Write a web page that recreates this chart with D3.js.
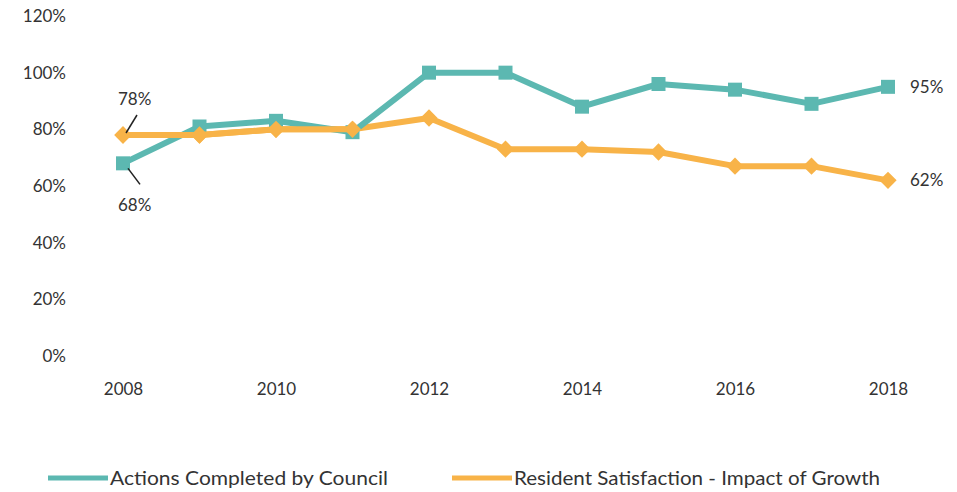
<!DOCTYPE html>
<html>
<head>
<meta charset="utf-8">
<script src="https://cdn.jsdelivr.net/npm/d3@7"></script>
<style>
  html, body { margin: 0; padding: 0; background: #fff; }
  svg { display: block; }
  text { font-family: Lato, "Open Sans", sans-serif; fill: #333; }
</style>
</head>
<body>
<svg id="chart" width="957" height="492"></svg>
<script>
// Years on the x axis
const years = [2008, 2009, 2010, 2011, 2012, 2013, 2014, 2015, 2016, 2017, 2018];
// Percentage of council actions completed
const actionsCompleted = [68, 81, 83, 79, 100, 100, 88, 96, 94, 89, 95];
// Resident satisfaction with the impact of growth
const residentSatisfaction = [78, 78, 80, 80, 84, 73, 73, 72, 67, 67, 62];
const yTicks = [0, 20, 40, 60, 80, 100, 120];
const xTicks = [2008, 2010, 2012, 2014, 2016, 2018];
const seriesNames = ["Actions Completed by Council", "Resident Satisfaction - Impact of Growth"];

const teal = "#5cb8b1";
const orange = "#f8b348";

const svg = d3.select("#chart");
const x = d3.scaleLinear().domain([2008, 2018]).range([123, 888]);
const y = d3.scaleLinear().domain([0, 120]).range([356, 16]);

// Y axis labels (no axis line)
const yAxis = d3.axisLeft(y).tickValues(yTicks).tickFormat(d => d + "%").tickSize(0).tickPadding(0);
const gy = svg.append("g").attr("transform", "translate(66,0)").call(yAxis);
gy.select(".domain").remove();
gy.selectAll("text").style("font-size", "17px").style("font-family", "Lato, sans-serif").attr("fill", "#333");

// X axis labels
const xAxis = d3.axisBottom(x).tickValues(xTicks).tickFormat(d3.format("d")).tickSize(0).tickPadding(0);
const gx = svg.append("g").attr("transform", "translate(0,383)").call(xAxis);
gx.select(".domain").remove();
gx.selectAll("text").style("font-size", "17px").style("font-family", "Lato, sans-serif").attr("fill", "#333");

const line = d3.line().x((d, i) => x(years[i])).y(d => y(d));
const diamond = d3.symbol(d3.symbolDiamond2, 190);

function drawOrange(values) {
  svg.append("path").datum(values)
    .attr("d", line).attr("fill", "none").attr("stroke", orange)
    .attr("stroke-width", 6).attr("stroke-linejoin", "round");
  svg.append("g").selectAll("path").data(values).join("path")
    .attr("d", diamond)
    .attr("transform", (d, i) => `translate(${x(years[i])},${y(d)})`)
    .attr("fill", orange);
}

// Orange series: line with diamond markers
drawOrange(residentSatisfaction);

// Teal series: line with square markers
svg.append("path").datum(actionsCompleted)
  .attr("d", line).attr("fill", "none").attr("stroke", teal)
  .attr("stroke-width", 6).attr("stroke-linejoin", "round");
svg.append("g").selectAll("rect").data(actionsCompleted).join("rect")
  .attr("x", (d, i) => x(years[i]) - 7).attr("y", d => y(d) - 7)
  .attr("width", 14).attr("height", 14).attr("fill", teal);

// Orange sits on top where the two series overlap (2008-2011)
drawOrange(residentSatisfaction.slice(0, 4));

// Value annotations
const last = years.length - 1;
const ann = svg.append("g").style("font-size", "17px");
ann.append("text").attr("x", x(years[0]) - 5).attr("y", y(residentSatisfaction[0]) - 30).text(residentSatisfaction[0] + "%");
ann.append("line")
  .attr("x1", x(years[0]) + 14).attr("y1", y(residentSatisfaction[0]) - 20)
  .attr("x2", x(years[0]) + 3).attr("y2", y(residentSatisfaction[0]) - 2)
  .attr("stroke", "#222").attr("stroke-width", 1.5);
ann.append("text").attr("x", x(years[0]) - 5).attr("y", y(actionsCompleted[0]) + 48).text(actionsCompleted[0] + "%");
ann.append("line")
  .attr("x1", x(years[0]) + 5).attr("y1", y(actionsCompleted[0]) + 5)
  .attr("x2", x(years[0]) + 17).attr("y2", y(actionsCompleted[0]) + 21)
  .attr("stroke", "#222").attr("stroke-width", 1.5);
ann.append("text").attr("x", x(years[last]) + 22).attr("y", y(actionsCompleted[last]) + 6).text(actionsCompleted[last] + "%");
ann.append("text").attr("x", x(years[last]) + 22).attr("y", y(residentSatisfaction[last]) + 6).text(residentSatisfaction[last] + "%");

// Legend
const legend = svg.append("g").style("font-size", "20px");
const legendItems = [
  { name: seriesNames[0], color: teal, x: 48, w: 278 },
  { name: seriesNames[1], color: orange, x: 452, w: 366 }
];
legendItems.forEach(it => {
  legend.append("line").attr("x1", it.x).attr("x2", it.x + 60)
    .attr("y1", 478).attr("y2", 478).attr("stroke", it.color).attr("stroke-width", 5);
  legend.append("text").attr("x", it.x + 62).attr("y", 485)
    .attr("textLength", it.w).attr("lengthAdjust", "spacingAndGlyphs")
    .style("font-family", "'Liberation Sans Narrow', Lato, sans-serif")
    .text(it.name);
});
</script>
</body>
</html>
